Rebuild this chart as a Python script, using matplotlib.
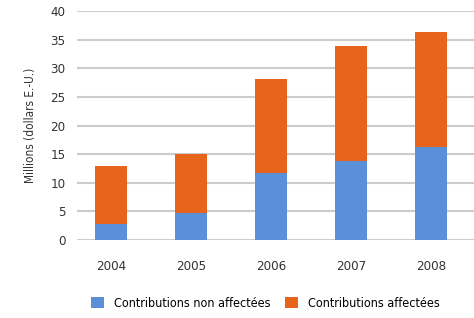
import matplotlib
matplotlib.use("Agg")
import matplotlib.pyplot as plt
import numpy as np

plt.rcParams['font.family'] = ['DejaVu Sans']
plt.rcParams['font.stretch'] = 'condensed'

years = ['2004', '2005', '2006', '2007', '2008']
non_affectees = [2.8, 4.8, 11.8, 13.8, 16.2]
affectees = [10.1, 10.2, 16.3, 20.1, 20.1]

blue = '#5b90d8'
orange = '#e8631c'

fig = plt.figure(figsize=(4.74, 3.18), dpi=100)
ax = fig.add_axes([0.162, 0.245, 0.838, 0.72])

x = np.arange(len(years))
ax.bar(x, non_affectees, width=0.4, color=blue, zorder=3,
       label='Contributions non affectées')
ax.bar(x, affectees, width=0.4, bottom=non_affectees, color=orange, zorder=3,
       label='Contributions affectées')

ax.set_ylim(0, 40)
ax.set_xlim(-0.425, 4.54)
ax.set_yticks(range(0, 41, 5))
ax.set_xticks(x)
ax.set_xticklabels(years)
ax.yaxis.grid(True, color='#cccccc', linewidth=1.5, zorder=0)
ax.set_axisbelow(True)
for s in ax.spines.values():
    s.set_visible(False)
ax.tick_params(axis='both', length=0, labelsize=9.5, colors='#333333')
ax.tick_params(axis='x', pad=14)
ax.tick_params(axis='y', pad=8)
ax.set_ylabel('Millions (dollars E.-U.)', fontsize=8.5, color='#333333', labelpad=10)

fig.legend(loc='lower center', bbox_to_anchor=(0.56, -0.01), ncol=2,
           frameon=False, fontsize=9, handlelength=1.0, handleheight=1.0,
           columnspacing=1.2, handletextpad=0.8)

plt.savefig('out.png', dpi=100)
plt.close()
